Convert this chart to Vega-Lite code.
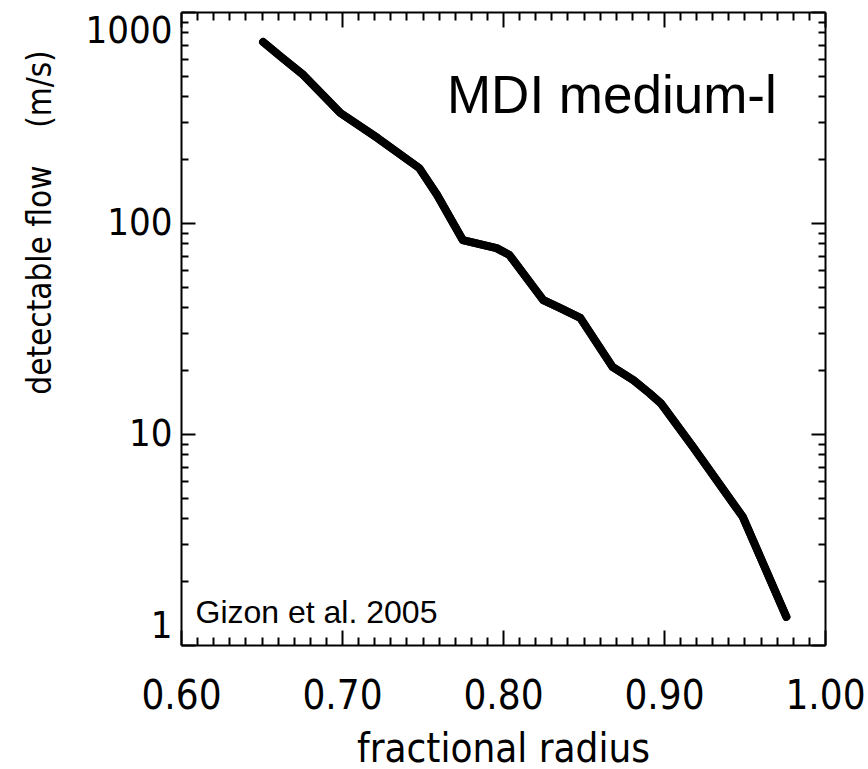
{
  "$schema": "https://vega.github.io/schema/vega-lite/v6.json",
  "width": 644,
  "height": 633,
  "autosize": "none",
  "padding": {"left": 181, "top": 12, "right": 43, "bottom": 124},
  "background": "white",
  "config": {
    "view": {"stroke": null},
    "axis": {
      "grid": false,
      "domainColor": "black",
      "domainWidth": 2,
      "tickColor": "black",
      "tickWidth": 2,
      "labelColor": "black",
      "titleColor": "black",
      "labelFont": "'Liberation Sans Narrow', 'DejaVu Sans Condensed', sans-serif",
      "titleFont": "'Liberation Sans Narrow', 'DejaVu Sans Condensed', sans-serif",
      "titleFontWeight": "normal"
    }
  },
  "datasets": {
    "curve": [
      {"radius": 0.651, "flow": 721},
      {"radius": 0.663, "flow": 605},
      {"radius": 0.676, "flow": 503},
      {"radius": 0.699, "flow": 332},
      {"radius": 0.722, "flow": 253},
      {"radius": 0.748, "flow": 182},
      {"radius": 0.759, "flow": 136},
      {"radius": 0.775, "flow": 83},
      {"radius": 0.796, "flow": 76},
      {"radius": 0.804, "flow": 70.5},
      {"radius": 0.825, "flow": 43.1},
      {"radius": 0.834, "flow": 40},
      {"radius": 0.848, "flow": 35.5},
      {"radius": 0.868, "flow": 20.8},
      {"radius": 0.881, "flow": 18.0},
      {"radius": 0.891, "flow": 15.6},
      {"radius": 0.898, "flow": 14.0},
      {"radius": 0.918, "flow": 8.68},
      {"radius": 0.949, "flow": 4.04},
      {"radius": 0.976, "flow": 1.36}
    ],
    "notes": [
      {"radius": 0.7652, "flow": 332, "label": "MDI medium-l"},
      {"radius": 0.609, "flow": 1.271, "label": "Gizon et al. 2005"}
    ]
  },
  "layer": [
    {
      "data": {"name": "curve"},
      "mark": {"type": "line", "color": "black", "strokeWidth": 8, "strokeJoin": "round", "strokeCap": "round"},
      "encoding": {
        "x": {
          "field": "radius", "type": "quantitative",
          "scale": {"domain": [0.6, 1.0], "nice": false, "zero": false},
          "axis": {
            "orient": "bottom",
            "values": [0.6, 0.7, 0.8, 0.9, 1.0],
            "format": ".2f",
            "tickSize": -15,
            "labelFontSize": 40,
            "labelPadding": 46,
            "labelBaseline": "top",
            "labelFlush": false,
            "labelOverlap": false,
            "title": "fractional radius",
            "titleFontSize": 40,
            "titleY": 116,
            "titleBaseline": "alphabetic"
          }
        },
        "y": {
          "field": "flow", "type": "quantitative",
          "scale": {"type": "log", "domain": [1, 1000], "nice": false},
          "axis": {
            "orient": "left",
            "values": [1, 10, 100, 1000],
            "format": "d",
            "tickSize": -14,
            "labelFontSize": 38,
            "labelPadding": 23,
            "labelFlush": true,
            "labelOverlap": false,
            "title": "detectable flow\u00a0\u00a0\u00a0 (m/s)",
            "titleFontSize": 33,
            "titleX": -141,
            "titleY": 210,
            "titleAlign": "center",
            "titleBaseline": "middle"
          }
        }
      }
    },
    {
      "data": {"name": "notes"},
      "transform": [{"filter": "datum.label == 'MDI medium-l'"}],
      "mark": {"type": "text", "font": "Liberation Sans", "fontSize": 53, "color": "black", "align": "left", "baseline": "alphabetic"},
      "encoding": {
        "x": {
          "field": "radius", "type": "quantitative",
          "axis": {
            "orient": "bottom",
            "values": [0.61,0.62,0.63,0.64,0.65,0.66,0.67,0.68,0.69,0.71,0.72,0.73,0.74,0.75,0.76,0.77,0.78,0.79,0.81,0.82,0.83,0.84,0.85,0.86,0.87,0.88,0.89,0.91,0.92,0.93,0.94,0.95,0.96,0.97,0.98,0.99],
            "tickSize": -8,
            "labels": false,
            "domain": false,
            "title": null
          }
        },
        "y": {
          "field": "flow", "type": "quantitative",
          "axis": {
            "orient": "left",
            "values": [2,3,4,5,6,7,8,9,20,30,40,50,60,70,80,90,200,300,400,500,600,700,800,900],
            "tickSize": -7,
            "labels": false,
            "domain": false,
            "title": null
          }
        },
        "text": {"field": "label"}
      }
    },
    {
      "data": {"name": "notes"},
      "transform": [{"filter": "datum.label == 'Gizon et al. 2005'"}],
      "mark": {"type": "text", "font": "Liberation Sans", "fontSize": 32, "color": "black", "align": "left", "baseline": "alphabetic"},
      "encoding": {
        "x": {
          "field": "radius", "type": "quantitative",
          "axis": {
            "orient": "top",
            "values": [0.6, 0.7, 0.8, 0.9, 1.0],
            "tickSize": -15,
            "labels": false,
            "title": null
          }
        },
        "y": {
          "field": "flow", "type": "quantitative",
          "axis": {
            "orient": "right",
            "values": [1, 10, 100, 1000],
            "tickSize": -14,
            "labels": false,
            "title": null
          }
        },
        "text": {"field": "label"}
      }
    },
    {
      "data": {"name": "curve"},
      "mark": {"type": "line", "color": "black", "strokeWidth": 8, "strokeJoin": "round", "strokeCap": "round"},
      "encoding": {
        "x": {
          "field": "radius", "type": "quantitative",
          "axis": {
            "orient": "top",
            "values": [0.61,0.62,0.63,0.64,0.65,0.66,0.67,0.68,0.69,0.71,0.72,0.73,0.74,0.75,0.76,0.77,0.78,0.79,0.81,0.82,0.83,0.84,0.85,0.86,0.87,0.88,0.89,0.91,0.92,0.93,0.94,0.95,0.96,0.97,0.98,0.99],
            "tickSize": -8,
            "labels": false,
            "domain": false,
            "title": null
          }
        },
        "y": {
          "field": "flow", "type": "quantitative",
          "axis": {
            "orient": "right",
            "values": [2,3,4,5,6,7,8,9,20,30,40,50,60,70,80,90,200,300,400,500,600,700,800,900],
            "tickSize": -7,
            "labels": false,
            "domain": false,
            "title": null
          }
        }
      }
    }
  ],
  "resolve": {"axis": {"x": "independent", "y": "independent"}}
}
